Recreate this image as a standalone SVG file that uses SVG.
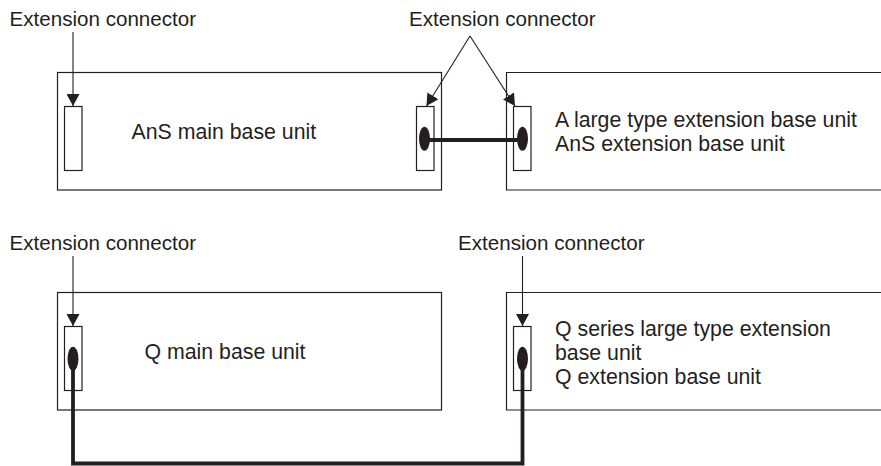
<svg xmlns="http://www.w3.org/2000/svg" width="881" height="466" viewBox="0 0 881 466">
<defs>
<style>
.box{fill:none;stroke:#231f20;stroke-width:1.2}
.conn{fill:#fff;stroke:#231f20;stroke-width:1.2}
.plug{fill:#231f20}
.cable{fill:none;stroke:#231f20;stroke-width:3.8;stroke-linejoin:miter}
.ptr{fill:none;stroke:#231f20;stroke-width:1.1}
.lbl{font-family:"Liberation Sans",Arial,sans-serif;font-size:20.6px;fill:#231f20}
.txt{font-family:"Liberation Sans",Arial,sans-serif;font-size:21.3px;fill:#231f20}
</style>
<marker id="ah" viewBox="0 0 12 13" refX="12" refY="6.5" markerWidth="12" markerHeight="13" markerUnits="userSpaceOnUse" orient="auto">
<path d="M0,0 L12,6.5 L0,13 Z" fill="#231f20"/>
</marker>
</defs>
<rect width="881" height="466" fill="#fff"/>

<g id="ans-main">
<rect class="box" x="57.5" y="72.5" width="384" height="117.5"/>
<rect class="conn" x="64.5" y="106.5" width="17.5" height="64"/>
<rect class="conn" x="416.5" y="106.5" width="17.5" height="64"/>
<ellipse class="plug" cx="424.5" cy="138.7" rx="5.5" ry="12"/>
<text class="txt" x="131.5" y="138.5">AnS main base unit</text>
</g>

<g id="ans-ext">
<path class="box" d="M881,72.5 H506.5 V190 H881"/>
<rect class="conn" x="513.5" y="106.5" width="17.5" height="64"/>
<ellipse class="plug" cx="522.5" cy="138.7" rx="5.5" ry="12"/>
<text class="txt" x="555" y="126.7">A large type extension base unit</text>
<text class="txt" x="555" y="151">AnS extension base unit</text>
</g>

<g id="q-main">
<rect class="box" x="57.5" y="292.5" width="384" height="117.5"/>
<rect class="conn" x="64.5" y="326.5" width="17.5" height="64"/>
<ellipse class="plug" cx="73" cy="358.7" rx="5.5" ry="12"/>
<text class="txt" x="144.5" y="358.5">Q main base unit</text>
</g>

<g id="q-ext">
<path class="box" d="M881,292.5 H506.5 V410 H881"/>
<rect class="conn" x="513.5" y="326.5" width="17.5" height="64"/>
<ellipse class="plug" cx="522.5" cy="358.7" rx="5.5" ry="12"/>
<text class="txt" x="555" y="336">Q series large type extension</text>
<text class="txt" x="555" y="360">base unit</text>
<text class="txt" x="555" y="384.3">Q extension base unit</text>
</g>

<g id="labels">
<text class="lbl" x="9.5" y="26">Extension connector</text>
<text class="lbl" x="409" y="26">Extension connector</text>
<text class="lbl" x="9.5" y="250">Extension connector</text>
<text class="lbl" x="458" y="250">Extension connector</text>
</g>

<g id="connectors">
<line class="ptr" x1="73" y1="32" x2="73" y2="106" marker-end="url(#ah)"/>
<line class="ptr" x1="470" y1="36" x2="426.5" y2="106" marker-end="url(#ah)"/>
<line class="ptr" x1="470" y1="36" x2="515" y2="106" marker-end="url(#ah)"/>
<line class="ptr" x1="73" y1="256" x2="73" y2="326" marker-end="url(#ah)"/>
<line class="ptr" x1="522.5" y1="256" x2="522.5" y2="326" marker-end="url(#ah)"/>
<line class="cable" x1="424.5" y1="140" x2="522.5" y2="140"/>
<path class="cable" d="M73,358 V463.5 H522.5 V358"/>
</g>
</svg>
